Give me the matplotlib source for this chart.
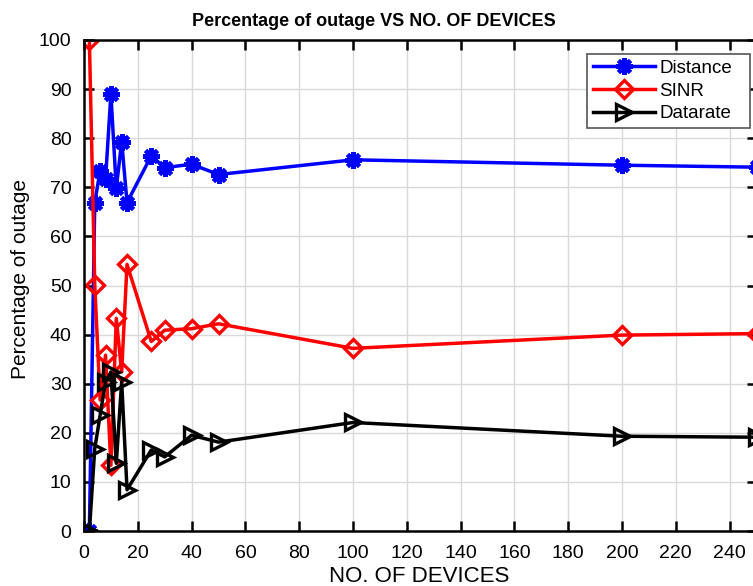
import matplotlib
matplotlib.use("Agg")
import matplotlib.pyplot as plt

plt.rcParams['font.family'] = ['Liberation Sans', 'DejaVu Sans']

devices = [2, 4, 6, 8, 10, 12, 14, 16, 25, 30, 40, 50, 100, 200, 250]
distance = [0, 66.9, 73.4, 71.6, 89.0, 69.8, 79.3, 66.9, 76.4, 74.0, 74.7, 72.6, 75.6, 74.5, 74.1]
sinr = [100, 50.1, 26.7, 35.8, 13.4, 43.3, 32.4, 54.3, 38.6, 40.9, 41.2, 42.2, 37.2, 39.9, 40.2]
datarate = [0, 16.8, 23.6, 30.4, 32.4, 13.8, 30.4, 8.4, 16.5, 15.1, 19.5, 18.1, 22.1, 19.3, 19.1]

W, H = 753, 586
fig = plt.figure(figsize=(W / 100, H / 100), dpi=100)
ax_w = 756.5 - 84
ax_h = 531 - 40
ax = fig.add_axes([84 / W, 1 - 531 / H, ax_w / W, ax_h / H])

ax.plot(devices, distance, color='blue', lw=2.5, marker=(8, 2, 0), ms=12,
        mec='blue', mfc='blue', mew=3, label='Distance')
ax.plot(devices, sinr, color='red', lw=2.5, marker='D', ms=9,
        mec='red', mfc='none', mew=2.4, label='SINR')
ax.plot(devices, datarate, color='black', lw=2.5, marker='>', ms=12,
        mec='black', mfc='none', mew=2.4, label='Datarate')

ax.set_xlim(0, 250)
ax.set_ylim(0, 100)
ax.set_xticks(range(0, 241, 20))
ax.set_yticks(range(0, 101, 10))
ax.grid(True, color='#d9d9d9', lw=1)
ax.set_axisbelow(True)
ax.tick_params(direction='in', length=7, width=1.8, top=True, right=True,
               labelsize=14)
ax.tick_params(axis='x', pad=10)
ax.tick_params(axis='y', pad=9)
for s in ax.spines.values():
    s.set_linewidth(1.8)

fig.text(374 / W, 1 - 22 / H, 'Percentage of outage VS NO. OF DEVICES',
         fontsize=13, fontweight='bold', ha='center', va='center')
fig.text(419 / W, 1 - 577 / H, 'NO. OF DEVICES', fontsize=16,
         ha='center', va='center')
fig.text(21 / W, 1 - 279 / H, 'Percentage of outage', fontsize=15,
         ha='center', va='center', rotation=90)

x0 = (587 - 84) / ax_w
x1 = (750 - 84) / ax_w
y1 = 1 - (54 - 40) / ax_h
y0 = 1 - (130 - 40) / ax_h
leg = ax.legend(loc='upper left', bbox_to_anchor=(x0, y0, x1 - x0, y1 - y0),
                mode='expand',
                fontsize=13.5, fancybox=False, edgecolor='#555555',
                framealpha=1, handlelength=3.3, borderpad=0.3,
                labelspacing=0.3, handletextpad=0.27, borderaxespad=0)
leg.get_frame().set_linewidth(1.2)

fig.savefig('out.png', dpi=100)
